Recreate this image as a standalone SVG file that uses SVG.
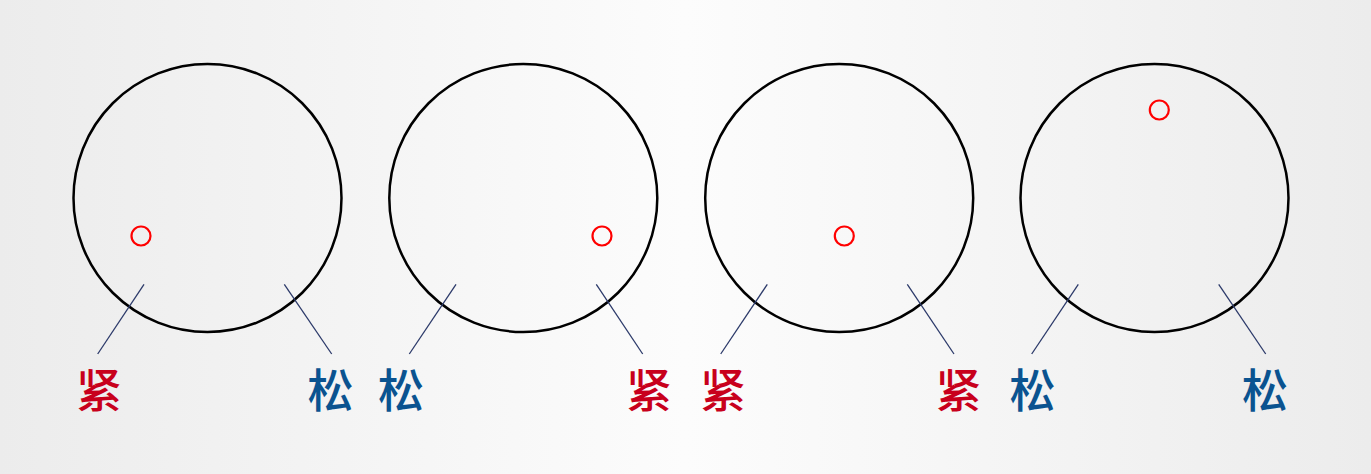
<svg xmlns="http://www.w3.org/2000/svg" width="1371" height="474" viewBox="0 0 1371 474">
<defs>
<linearGradient id="bg" x1="0" y1="0" x2="1" y2="0">
<stop offset="0" stop-color="#ececec"/>
<stop offset="0.5" stop-color="#fcfcfc"/>
<stop offset="1" stop-color="#ececec"/>
</linearGradient>
</defs>
<style>
.wheel{fill:none;stroke:#000;stroke-width:2.5}
.dot{fill:none;stroke:#ff0000;stroke-width:2.2}
.lead{stroke:#2c3a6a;stroke-width:1.3;fill:none}
.lbl{font-family:"Noto Sans CJK SC","Noto Sans CJK JP",sans-serif;font-size:46px;font-weight:500;text-anchor:middle}
.tight{fill:#c8001c}
.loose{fill:#0a5390}
</style>
<rect width="1371" height="474" fill="url(#bg)"/>
<g id="node1">
<circle class="wheel" cx="207.5" cy="198" r="134"/>
<circle class="dot" cx="141" cy="236" r="9.5"/>
<text class="lbl tight" x="99" y="407">紧</text>
<text class="lbl loose" x="330.5" y="407">松</text>
</g>
<g id="node2">
<circle class="wheel" cx="523.3" cy="198" r="134"/>
<circle class="dot" cx="602" cy="236" r="9.5"/>
<text class="lbl loose" x="401" y="407">松</text>
<text class="lbl tight" x="649" y="407">紧</text>
</g>
<g id="node3">
<circle class="wheel" cx="839.2" cy="198" r="134"/>
<circle class="dot" cx="844.3" cy="236" r="9.5"/>
<text class="lbl tight" x="723" y="407">紧</text>
<text class="lbl tight" x="958.5" y="407">紧</text>
</g>
<g id="node4">
<circle class="wheel" cx="1154.5" cy="198" r="134"/>
<circle class="dot" cx="1159.3" cy="110" r="9.5"/>
<text class="lbl loose" x="1032.5" y="407">松</text>
<text class="lbl loose" x="1265" y="407">松</text>
</g>
<g id="connectors">
<line class="lead" x1="144" y1="284.3" x2="97.7" y2="354"/>
<line class="lead" x1="284.3" y1="284.3" x2="331.7" y2="354"/>
<line class="lead" x1="456" y1="284.3" x2="409.3" y2="354"/>
<line class="lead" x1="596.3" y1="284.3" x2="642.7" y2="354"/>
<line class="lead" x1="767.3" y1="284.3" x2="720.7" y2="354"/>
<line class="lead" x1="907.3" y1="284.3" x2="954" y2="354"/>
<line class="lead" x1="1078.3" y1="284.3" x2="1031.7" y2="354"/>
<line class="lead" x1="1218.7" y1="284.3" x2="1265.7" y2="354"/>
</g>
</svg>
